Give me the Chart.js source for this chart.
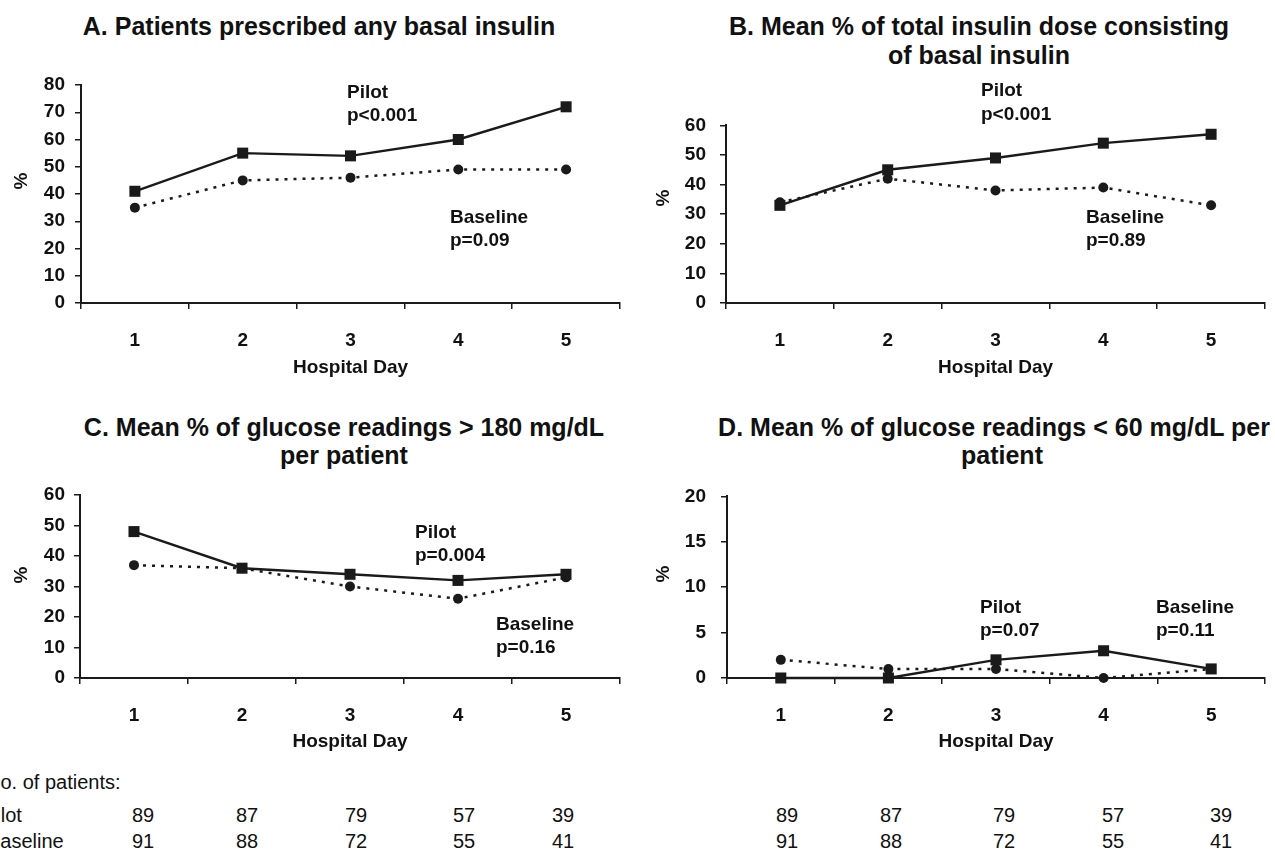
<!DOCTYPE html>
<html><head><meta charset="utf-8">
<script src="https://cdn.jsdelivr.net/npm/chart.js@4.4.1/dist/chart.umd.min.js"></script>
<style>
html,body{margin:0;padding:0;background:#fff;}
body{width:1275px;height:854px;position:relative;overflow:hidden;font-family:"Liberation Sans",Arial,Helvetica,sans-serif;color:#111;}
.t{position:absolute;white-space:nowrap;line-height:1.2;}
canvas{position:absolute;}
</style></head><body>
<script>
// ---- data ----
const days = ['1','2','3','4','5'];
const pilotA = [41, 55, 54, 60, 72];
const baseA  = [35, 45, 46, 49, 49];
const pilotB = [33, 45, 49, 54, 57];
const baseB  = [34, 42, 38, 39, 33];
const pilotC = [48, 36, 34, 32, 34];
const baseC  = [37, 36, 30, 26, 33];
const pilotD = [0, 0, 2, 3, 1];
const baseD  = [2, 1, 1, 0, 1];
const nPilot    = [89, 87, 79, 57, 39];
const nBaseline = [91, 88, 72, 55, 41];

// ---- style / layout ----
Chart.defaults.font.family = "'Liberation Sans', Arial, Helvetica, sans-serif";
Chart.defaults.color = '#111';
const INK = '#1a1a1a';

function makePanel(p) {
  const c = document.createElement('canvas');
  c.width = p.w; c.height = p.h;
  c.style.left = p.x + 'px'; c.style.top = p.y + 'px';
  c.style.width = p.w + 'px'; c.style.height = p.h + 'px';
  document.body.appendChild(c);
  const gridOpts = {drawOnChartArea:false, drawTicks:true, tickLength:6, color:INK, lineWidth:1.5};
  return new Chart(c, {
    type: 'line',
    data: {labels: days, datasets: [
      {label:'Pilot', data:p.pilot, borderColor:INK, borderWidth:2.4, pointStyle:'rect',
       pointRadius:7.8, pointBackgroundColor:INK, pointBorderColor:INK, pointBorderWidth:0,
       fill:false, tension:0, clip:false},
      {label:'Baseline', data:p.base, borderColor:INK, borderWidth:2.5, borderDash:[3,6],
       pointStyle:'circle', pointRadius:5, pointBackgroundColor:INK, pointBorderColor:INK,
       pointBorderWidth:0, fill:false, tension:0, clip:false}
    ]},
    options: {
      responsive:false, animation:false, devicePixelRatio:1,
      layout:{padding:{top:p.padTop, right:p.padRight, left:0, bottom:0}},
      plugins:{legend:{display:false}, tooltip:{enabled:false}},
      scales:{
        x:{offset:true,
           grid:Object.assign({offset:true}, gridOpts),
           border:{display:true, color:INK, width:2},
           ticks:{padding:20, font:{size:19, weight:'bold'}, color:'#111'},
           title:{display:true, text:'Hospital Day', color:'#111', font:{size:19, weight:'bold'}, padding:{top:0, bottom:p.xtPad}},
           afterFit: s => { s.height = p.xh; }},
        y:{min:0, max:p.max,
           ticks:{stepSize:p.step, padding:p.ytPad, font:{size:19, weight:'bold'}, color:'#111'},
           grid:gridOpts,
           border:{display:true, color:INK, width:2},
           title:{display:false},
           afterFit: s => { s.width = p.yw; }}
      }
    }
  });
}

makePanel({x:0,   y:60,  w:640, h:323, padTop:25, padRight:20, yw:81, xh:80, xtPad:4, ytPad:10, max:80, step:10, pilot:pilotA, base:baseA});
makePanel({x:640, y:100, w:635, h:283, padTop:23, padRight:10, yw:86, xh:80, xtPad:4, ytPad:14, max:60, step:10, pilot:pilotB, base:baseB});
makePanel({x:0,   y:470, w:640, h:288, padTop:25, padRight:20, yw:80, xh:80, xtPad:5, ytPad:9,  max:60, step:10, pilot:pilotC, base:baseC});
makePanel({x:640, y:470, w:635, h:288, padTop:25, padRight:10, yw:87, xh:80, xtPad:5, ytPad:15, max:20, step:5,  pilot:pilotD, base:baseD});

// ---- text ----
function txt(s, x, y, size, bold, align) {
  const d = document.createElement('div');
  d.className = 't';
  d.textContent = s;
  d.style.fontSize = size + 'px';
  d.style.fontWeight = bold ? 'bold' : 'normal';
  d.style.top = (y - 0.5885 * size) + 'px';
  d.style.left = x + 'px';
  if (align === 'center') d.style.transform = 'translateX(-50%)';
  document.body.appendChild(d);
}
function vtxt(s, x, y, size) {
  const d = document.createElement('div');
  d.className = 't';
  d.textContent = s;
  d.style.fontSize = size + 'px';
  d.style.fontWeight = 'bold';
  d.style.left = x + 'px';
  d.style.top = y + 'px';
  d.style.transform = 'translate(-50%,-50%) rotate(-90deg)';
  document.body.appendChild(d);
}
const TS = 25, AS = 19;
txt('A. Patients prescribed any basal insulin', 319, 26, TS, true, 'center');
txt('B. Mean % of total insulin dose consisting', 979, 26, TS, true, 'center');
txt('of basal insulin', 979, 55, TS, true, 'center');
txt('C. Mean % of glucose readings > 180 mg/dL', 344, 427, TS, true, 'center');
txt('per patient', 344, 455, TS, true, 'center');
txt('D. Mean % of glucose readings < 60 mg/dL per', 994, 427, TS, true, 'center');
txt('patient', 1002, 455, TS, true, 'center');

vtxt('%', 21, 181, 19);
vtxt('%', 663, 198, 19);
vtxt('%', 21, 575, 19);
vtxt('%', 663, 574, 19);

txt('Pilot', 347, 92, AS, true);    txt('p<0.001', 347, 115, AS, true);
txt('Baseline', 450, 217, AS, true); txt('p=0.09', 450, 240, AS, true);
txt('Pilot', 981, 90, AS, true);    txt('p<0.001', 981, 114, AS, true);
txt('Baseline', 1086, 217, AS, true); txt('p=0.89', 1086, 240, AS, true);
txt('Pilot', 415, 532, AS, true);   txt('p=0.004', 415, 555, AS, true);
txt('Baseline', 496, 624, AS, true); txt('p=0.16', 496, 647, AS, true);
txt('Pilot', 980, 607, AS, true);   txt('p=0.07', 980, 630, AS, true);
txt('Baseline', 1156, 607, AS, true); txt('p=0.11', 1156, 630, AS, true);

// patient counts table
const NS = 20;
const rowY = [782, 815, 841];
const colL = [143, 247, 356, 464, 563];
const colR = [787, 891, 1004, 1113, 1221];
txt('No. of patients:', -14, rowY[0], NS, false);
txt('Pilot', -17, rowY[1], NS, false);
txt('Baseline', -13, rowY[2], NS, false);
[colL, colR].forEach(cols => {
  cols.forEach((cx, i) => {
    txt(String(nPilot[i]), cx, rowY[1], NS, false, 'center');
    txt(String(nBaseline[i]), cx, rowY[2], NS, false, 'center');
  });
});
</script>
</body></html>
